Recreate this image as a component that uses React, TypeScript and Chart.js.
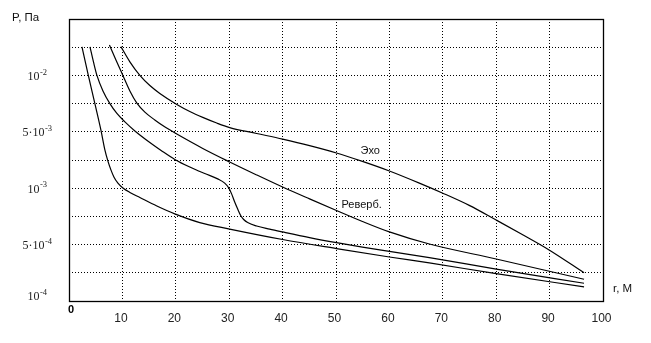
import React, { useEffect, useRef } from "react";
import { Chart, registerables } from "chart.js";

Chart.register(...registerables);

// x axis: distance r, m ; y axis: level index on the chart's pressure scale (0..10 grid steps)
const xTickValues = [10, 20, 30, 40, 50, 60, 70, 80, 90, 100];
const yTickLevels = [0, 2, 4, 6, 8];
const yTickMantissa = ["", "5·", "", "5·", ""];
const yTickExponent = ["-4", "-4", "-3", "-3", "-2"];

// curve 1 (lowest)
const directR = [2.43, 3.64, 4.86, 5.98, 6.73, 7.29, 7.85, 8.41, 9.16, 10.09, 11.4, 13.27, 16.45, 19.81, 24.49, 30.09, 40.0, 50.09, 60.0, 67.48, 80.0, 96.45];
const directP = [9.01, 7.98, 6.99, 6.06, 5.35, 4.96, 4.65, 4.4, 4.18, 4.01, 3.85, 3.67, 3.37, 3.09, 2.78, 2.55, 2.18, 1.86, 1.56, 1.35, 0.97, 0.5];

// curve 2 (with the step near r = 31)
const stepR = [3.93, 4.58, 5.23, 6.36, 7.66, 8.97, 10.47, 12.34, 15.14, 17.38, 19.81, 22.62, 25.42, 27.85, 29.16, 29.91, 30.47, 31.03, 31.59, 32.15, 32.71, 33.46, 35.14, 37.57, 40.0, 45.05, 50.09, 54.95, 60.0, 67.48, 80.0, 96.45];
const stepP = [9.01, 8.48, 8.0, 7.45, 7.0, 6.65, 6.35, 6.03, 5.62, 5.32, 5.02, 4.75, 4.52, 4.33, 4.18, 4.01, 3.79, 3.51, 3.26, 3.03, 2.89, 2.78, 2.66, 2.55, 2.45, 2.25, 2.07, 1.91, 1.76, 1.54, 1.13, 0.63];

// curve 3 ("Реверб.")
const reverbR = [7.57, 8.79, 10.09, 11.4, 12.71, 14.21, 16.07, 18.13, 20.19, 25.05, 30.09, 35.14, 40.0, 45.05, 50.09, 54.95, 60.0, 67.48, 80.0, 96.45];
const reverbP = [9.08, 8.55, 8.0, 7.45, 7.02, 6.7, 6.42, 6.15, 5.92, 5.41, 4.93, 4.47, 4.04, 3.62, 3.21, 2.82, 2.45, 2.02, 1.49, 0.77];

// curve 4 ("Эхо")
const echoR = [9.72, 11.4, 13.27, 15.14, 17.01, 20.19, 22.62, 25.05, 27.66, 30.09, 35.14, 40.0, 45.05, 50.09, 54.95, 60.0, 65.61, 69.91, 74.95, 80.0, 85.05, 89.91, 96.45];
const echoP = [9.02, 8.48, 8.0, 7.64, 7.36, 6.97, 6.72, 6.51, 6.31, 6.15, 5.94, 5.74, 5.51, 5.25, 4.95, 4.61, 4.18, 3.83, 3.39, 2.87, 2.34, 1.81, 1.0];

const curveLabels = [
  { text: "Эхо", r: 56.4, p: 5.32 },
  { text: "Реверб.", r: 54.8, p: 3.4 },
];

const toPoints = (xs: number[], ys: number[]) => xs.map((x, i) => ({ x, y: ys[i] }));

const textPlugin = {
  id: "textPlugin",
  afterDraw(chart: any) {
    const { ctx, chartArea, scales } = chart;
    const { left, top, right, bottom } = chartArea;
    const xs = scales.x;
    const ys = scales.y;
    ctx.save();
    // frame
    ctx.strokeStyle = "#000";
    ctx.lineWidth = 1.3;
    ctx.strokeRect(Math.round(left) + 0.5, Math.round(top) + 0.5, Math.round(right - left), Math.round(bottom - top));

    // y tick labels with superscripts
    ctx.fillStyle = "#222";
    ctx.textBaseline = "middle";
    const mainFont = "12px 'Liberation Serif', serif";
    const expFont = "8.5px 'Liberation Serif', serif";
    yTickLevels.forEach((lv, i) => {
      const py = Math.min(ys.getPixelForValue(lv) + 1.5, bottom - 4);
      ctx.font = mainFont;
      const main = yTickMantissa[i] + "10";
      const wMain = ctx.measureText(main).width;
      ctx.font = expFont;
      const wExp = ctx.measureText(yTickExponent[i]).width;
      const cx = left - 32;
      const x0 = cx - (wMain + wExp) / 2;
      ctx.textAlign = "left";
      ctx.font = mainFont;
      ctx.fillText(main, x0, py);
      ctx.font = expFont;
      ctx.fillText(yTickExponent[i], x0 + wMain + 0.5, py - 4.5);
    });

    // x tick labels
    ctx.font = "12px 'Liberation Sans', Arial, sans-serif";
    ctx.fillStyle = "#222";
    ctx.textAlign = "center";
    xTickValues.forEach((v) => {
      ctx.fillText(String(v), xs.getPixelForValue(v) - 1.5, bottom + 18);
    });
    ctx.font = "bold 11px 'Liberation Sans', Arial, sans-serif";
    ctx.fillStyle = "#000";
    ctx.fillText("0", xs.getPixelForValue(0) + 2, bottom + 9);

    // axis titles
    ctx.font = "11.5px 'Liberation Sans', Arial, sans-serif";
    ctx.fillStyle = "#111";
    ctx.textAlign = "left";
    ctx.fillText("P, Па", left - 57, top - 1);
    ctx.fillText("r, M", right + 10, bottom - 12);

    // curve labels
    ctx.font = "11px 'Liberation Sans', Arial, sans-serif";
    ctx.textAlign = "center";
    curveLabels.forEach((l) => {
      ctx.fillText(l.text, xs.getPixelForValue(l.r), ys.getPixelForValue(l.p));
    });
    ctx.restore();
  },
};

export default function App() {
  const ref = useRef<HTMLCanvasElement>(null);
  useEffect(() => {
    if (!ref.current) return;
    const mk = (xs: number[], ys: number[]) => ({
      data: toPoints(xs, ys),
      borderColor: "#000",
      borderWidth: 1.2,
      pointRadius: 0,
      fill: false,
      tension: 0.4,
      cubicInterpolationMode: "monotone" as const,
    });
    const chart = new Chart(ref.current, {
      type: "line",
      data: {
        datasets: [
          mk(directR, directP),
          mk(stepR, stepP),
          mk(reverbR, reverbP),
          mk(echoR, echoP),
        ],
      },
      options: {
        animation: false,
        responsive: false,
        events: [],
        layout: { padding: { left: 69, top: 19, right: 48, bottom: 42 } },
        plugins: { legend: { display: false }, tooltip: { enabled: false } },
        scales: {
          x: {
            type: "linear",
            min: 0,
            max: 100,
            ticks: { display: false, stepSize: 10 },
            grid: { color: "#000", lineWidth: 1, drawTicks: false },
            border: { display: false, dash: [1, 2] },
          },
          y: {
            type: "linear",
            min: 0,
            max: 10,
            ticks: { display: false, stepSize: 1 },
            grid: { color: "#000", lineWidth: 1, drawTicks: false },
            border: { display: false, dash: [1, 2] },
          },
        },
      },
      plugins: [textPlugin],
    });
    return () => chart.destroy();
  }, []);
  return (
    <div style={{ position: "fixed", left: 0, top: 0, width: 651, height: 343, background: "#fff" }}>
      <canvas ref={ref} width={651} height={343} />
    </div>
  );
}
